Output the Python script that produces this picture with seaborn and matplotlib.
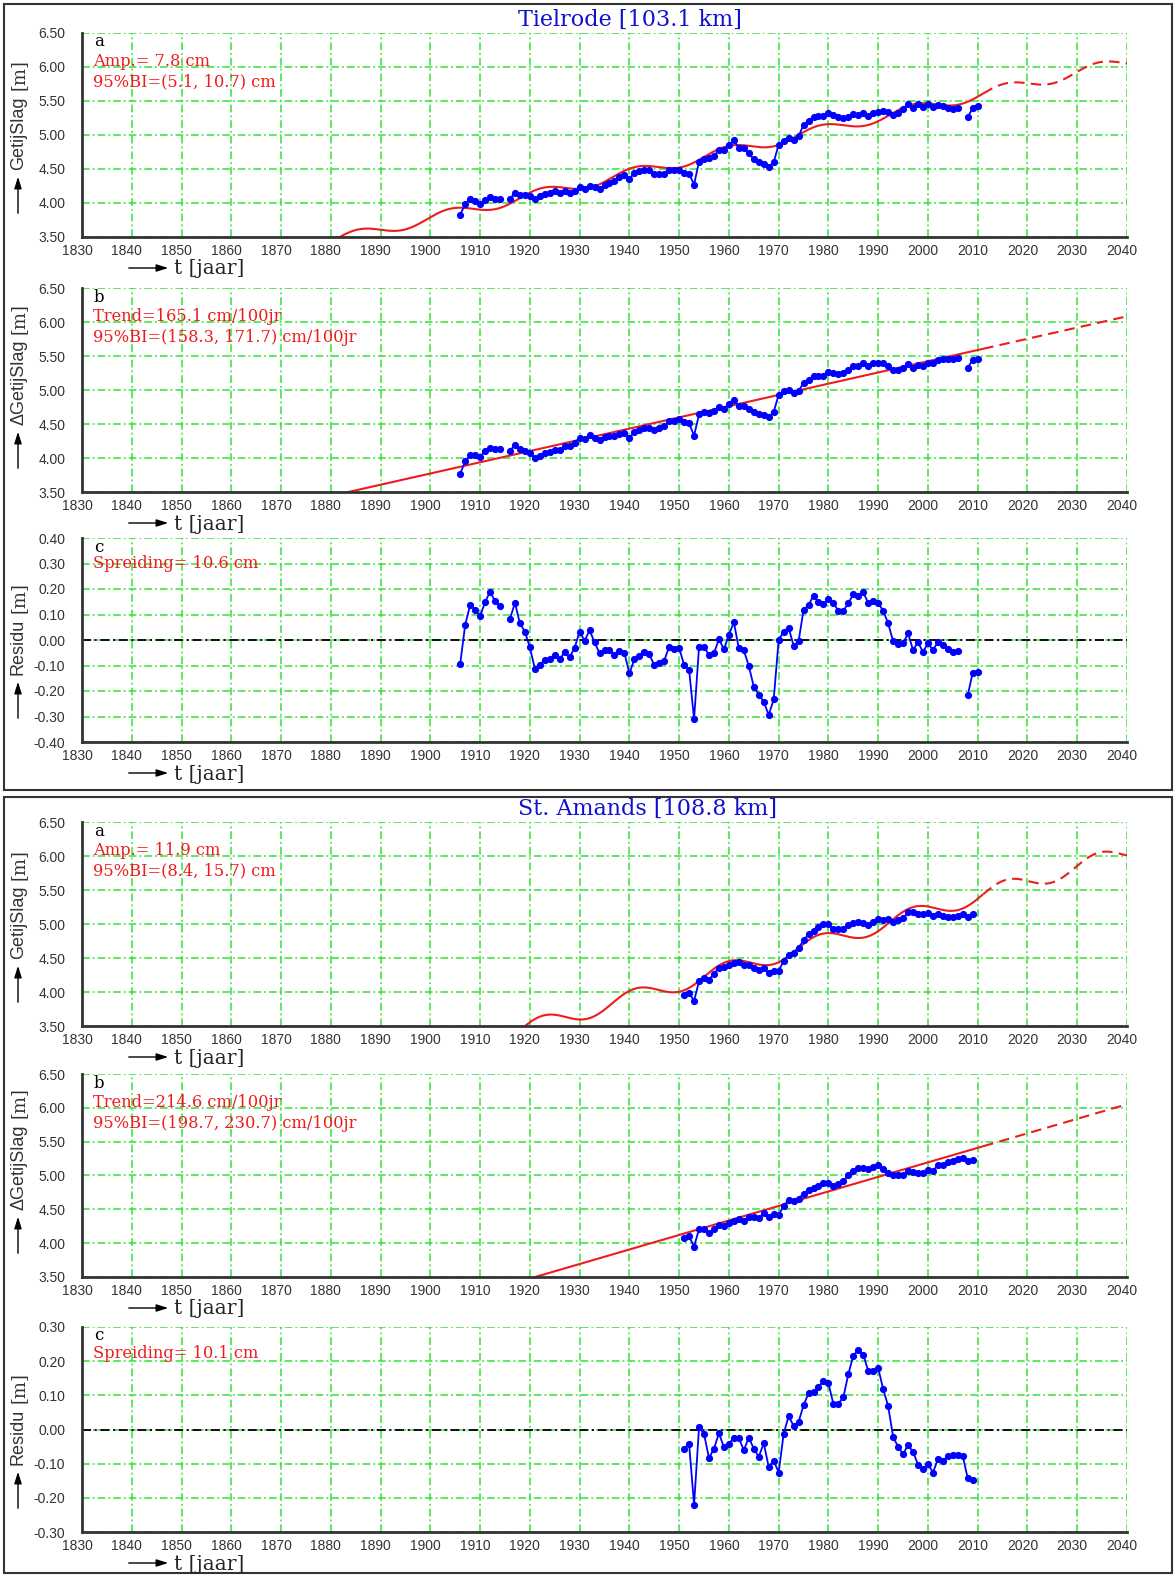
import numpy as np
import pandas as pd
import matplotlib
matplotlib.use("Agg")
import matplotlib.pyplot as plt
import seaborn as sns
from matplotlib.patches import Rectangle, FancyArrowPatch
from matplotlib.ticker import FormatStrFormatter
from matplotlib.transforms import ScaledTranslation

# ---------------- data ----------------
tielrode_title = "Tielrode [103.1 km]"
tielrode_years = list(range(1906, 1915)) + list(range(1916, 2007)) + [2008, 2009, 2010]
tielrode_obs = [3.83, 3.98, 4.06, 4.03, 3.99, 4.05, 4.09, 4.06, 4.06,
                4.06, 4.15, 4.12, 4.12, 4.11, 4.06, 4.10, 4.13, 4.15, 4.17,
                4.15, 4.17, 4.15, 4.18, 4.23, 4.20, 4.25, 4.23, 4.21, 4.26,
                4.29, 4.33, 4.38, 4.41, 4.36, 4.44, 4.47, 4.49, 4.48, 4.43,
                4.43, 4.43, 4.48, 4.48, 4.48, 4.44, 4.43, 4.27, 4.61, 4.65,
                4.66, 4.69, 4.78, 4.78, 4.85, 4.92, 4.81, 4.81, 4.73, 4.64,
                4.60, 4.57, 4.53, 4.60, 4.86, 4.91, 4.96, 4.93, 4.98, 5.15,
                5.21, 5.27, 5.28, 5.28, 5.32, 5.30, 5.26, 5.25, 5.27, 5.31,
                5.30, 5.32, 5.28, 5.33, 5.34, 5.35, 5.34, 5.30, 5.33, 5.38,
                5.46, 5.40, 5.46, 5.41, 5.46, 5.41, 5.44, 5.42, 5.40, 5.38,
                5.40, 5.26, 5.40, 5.43]
tielrode_delta = [3.77, 3.95, 4.04, 4.04, 4.02, 4.10, 4.15, 4.13, 4.13,
                  4.11, 4.19, 4.13, 4.11, 4.07, 4.00, 4.03, 4.07, 4.09, 4.12,
                  4.12, 4.17, 4.17, 4.22, 4.30, 4.28, 4.34, 4.30, 4.27, 4.31,
                  4.32, 4.32, 4.36, 4.37, 4.30, 4.38, 4.41, 4.44, 4.44, 4.41,
                  4.44, 4.47, 4.54, 4.54, 4.57, 4.53, 4.51, 4.33, 4.64, 4.67,
                  4.66, 4.69, 4.75, 4.72, 4.80, 4.85, 4.76, 4.77, 4.72, 4.67,
                  4.65, 4.63, 4.60, 4.68, 4.93, 4.98, 5.00, 4.96, 4.98, 5.11,
                  5.15, 5.21, 5.20, 5.21, 5.26, 5.25, 5.24, 5.25, 5.29, 5.35,
                  5.36, 5.39, 5.36, 5.39, 5.40, 5.39, 5.35, 5.29, 5.29, 5.32,
                  5.38, 5.33, 5.37, 5.35, 5.40, 5.39, 5.44, 5.45, 5.45, 5.45,
                  5.47, 5.33, 5.44, 5.45]
tielrode_resid = [-0.094, 0.059, 0.137, 0.118, 0.094, 0.148, 0.190, 0.152, 0.133,
                  0.082, 0.146, 0.065, 0.033, -0.029, -0.112, -0.099, -0.077, -0.076, -0.059,
                  -0.076, -0.047, -0.068, -0.030, 0.033, -0.003, 0.038, -0.009, -0.052, -0.039,
                  -0.039, -0.060, -0.042, -0.051, -0.131, -0.076, -0.061, -0.046, -0.056, -0.099,
                  -0.090, -0.081, -0.026, -0.034, -0.031, -0.098, -0.116, -0.311, -0.026, -0.026,
                  -0.060, -0.052, 0.004, -0.037, 0.021, 0.069, -0.033, -0.041, -0.102, -0.183,
                  -0.214, -0.242, -0.294, -0.233, 0.000, 0.033, 0.048, -0.022, -0.005, 0.118,
                  0.137, 0.174, 0.149, 0.141, 0.161, 0.144, 0.115, 0.115, 0.144, 0.180,
                  0.173, 0.188, 0.144, 0.154, 0.144, 0.115, 0.065, -0.005, -0.016, -0.013,
                  0.026, -0.039, -0.009, -0.047, -0.013, -0.039, -0.008, -0.021, -0.037, -0.047,
                  -0.043, -0.216, -0.128, -0.127]
tielrode_amp_text = ["Amp.= 7.8 cm", "95%BI=(5.1, 10.7) cm"]
tielrode_trend_text = ["Trend=165.1 cm/100jr", "95%BI=(158.3, 171.7) cm/100jr"]
tielrode_spread_text = "Spreiding= 10.6 cm"
# fitted model parameters (read from the annotations / curves)
tielrode_rate = 0.01651        # m/yr
tielrode_level2000 = 5.423     # trend value in 2000 [m]
tielrode_amp = 0.078           # nodal amplitude [m]

stamands_title = "St. Amands [108.8 km]"
stamands_years = list(range(1951, 2010))
stamands_obs = [3.95, 3.99, 3.87, 4.16, 4.20, 4.18, 4.27, 4.36, 4.37, 4.40,
                4.43, 4.44, 4.39, 4.39, 4.35, 4.32, 4.35, 4.28, 4.31, 4.31,
                4.46, 4.54, 4.58, 4.65, 4.76, 4.85, 4.90, 4.95, 5.00, 5.00,
                4.93, 4.92, 4.92, 4.98, 5.02, 5.03, 5.02, 4.98, 5.03, 5.07,
                5.06, 5.07, 5.03, 5.06, 5.09, 5.17, 5.17, 5.15, 5.15, 5.16,
                5.12, 5.14, 5.12, 5.11, 5.11, 5.12, 5.14, 5.11, 5.15]
stamands_delta = [4.07, 4.10, 3.95, 4.21, 4.21, 4.15, 4.21, 4.27, 4.26, 4.30,
                  4.33, 4.35, 4.33, 4.39, 4.38, 4.37, 4.44, 4.38, 4.43, 4.42,
                  4.55, 4.64, 4.63, 4.66, 4.73, 4.79, 4.81, 4.84, 4.89, 4.89,
                  4.84, 4.87, 4.92, 5.00, 5.07, 5.11, 5.11, 5.09, 5.12, 5.16,
                  5.10, 5.04, 5.01, 5.00, 5.01, 5.06, 5.05, 5.04, 5.04, 5.08,
                  5.07, 5.15, 5.16, 5.20, 5.22, 5.24, 5.26, 5.22, 5.23]
stamands_resid = [-0.056, -0.042, -0.220, 0.007, -0.013, -0.084, -0.056, -0.011, -0.052, -0.041,
                  -0.025, -0.026, -0.060, -0.024, -0.056, -0.080, -0.040, -0.110, -0.091, -0.126,
                  -0.013, 0.039, 0.011, 0.022, 0.071, 0.106, 0.109, 0.125, 0.142, 0.135,
                  0.075, 0.076, 0.094, 0.162, 0.216, 0.233, 0.219, 0.172, 0.172, 0.180,
                  0.118, 0.069, -0.022, -0.050, -0.072, -0.046, -0.065, -0.103, -0.117, -0.100,
                  -0.126, -0.087, -0.091, -0.079, -0.076, -0.075, -0.078, -0.143, -0.148]
stamands_amp_text = ["Amp.= 11.9 cm", "95%BI=(8.4, 15.7) cm"]
stamands_trend_text = ["Trend=214.6 cm/100jr", "95%BI=(198.7, 230.7) cm/100jr"]
stamands_spread_text = "Spreiding= 10.1 cm"
stamands_rate = 0.02146
stamands_level2000 = 5.194
stamands_amp = 0.119

nodal_period = 18.61      # years
nodal_peak_year = 1997.0  # phase of the nodal cycle
forecast_from = 2011      # model curve dashed after this year

xticks = list(range(1830, 2041, 10))
level_ticks = [3.5, 4.0, 4.5, 5.0, 5.5, 6.0, 6.5]
tielrode_resid_ticks = [-0.4, -0.3, -0.2, -0.1, 0.0, 0.1, 0.2, 0.3, 0.4]
stamands_resid_ticks = [-0.3, -0.2, -0.1, 0.0, 0.1, 0.2, 0.3]

# ---------------- style ----------------
W, H = 1176, 1576
sns.set_theme(style="white")
plt.rcParams["font.family"] = ["Liberation Sans", "DejaVu Sans"]
SERIF = ["DejaVu Serif"]
GREEN = "#33e233"
BLUE = "#0000ff"
RED = "#ee1c1c"
GRID_LS = (0, (5, 2, 1.2, 2))

fig = plt.figure(figsize=(W / 100, H / 100), dpi=100)


def fx(x):
    return x / W


def fy(y):
    return 1 - y / H


AX_L, AX_R = 82.0, 1127.0
panel_px = [(33.0, 237.0), (288.0, 492.0), (538.0, 742.0),
            (822.0, 1026.0), (1074.0, 1277.0), (1327.0, 1532.0)]


def seg_frame(years, values):
    yrs = np.asarray(years)
    seg = np.cumsum(np.diff(yrs, prepend=yrs[0]) > 1)
    return pd.DataFrame({"year": yrs, "val": values, "seg": seg})


def model(t, rate, lvl, amp):
    trend = lvl + rate * (t - 2000)
    return trend + amp * np.cos(2 * np.pi * (t - nodal_peak_year) / nodal_period)


def style_axes(ax, ylim, yticks):
    ax.set_xlim(1830, 2040)
    ax.set_ylim(*ylim)
    ax.set_xticks(xticks)
    ax.set_yticks(yticks)
    ax.yaxis.set_major_formatter(FormatStrFormatter("%.2f"))
    ax.grid(True, color=GREEN, linestyle=GRID_LS, lw=1.1)
    for s in ["top", "right"]:
        ax.spines[s].set_visible(False)
    for s in ["left", "bottom"]:
        ax.spines[s].set_color("#333333")
        ax.spines[s].set_linewidth(2)
        ax.spines[s].set_zorder(3)
    ax.tick_params(axis="y", length=0, pad=12, labelsize=10, labelcolor="#333333")
    ax.tick_params(axis="x", length=0, pad=5, labelsize=10, labelcolor="#333333")
    ax.set_xlabel("")
    ax.set_ylabel("")
    for lab in ax.get_xticklabels():
        lab.set_transform(lab.get_transform() + ScaledTranslation(-5 / 100, 0, fig.dpi_scale_trans))


ylabel_items = []


def decorate(ax, top, bot, letter, texts, ylabel, line_offsets):
    ax.text(fx(94), fy(top + 9), letter, transform=fig.transFigure, family=SERIF,
            fontsize=12, color="black", va="center", ha="left")
    for t, off in zip(texts, line_offsets):
        ax.text(fx(93), fy(top + off), t, transform=fig.transFigure, family=SERIF,
                fontsize=11.7, color=RED, va="center", ha="left")
    # x label with arrow
    yl = bot + 31
    fig.add_artist(FancyArrowPatch((fx(126), fy(yl)), (fx(171), fy(yl)), transform=fig.transFigure,
                                   arrowstyle="-|>,head_length=0.7,head_width=0.22",
                                   mutation_scale=10, lw=1, color="black"))
    fig.text(fx(174), fy(yl + 1), "t [jaar]", family=SERIF, fontsize=14.5, va="center", ha="left")
    # y label with arrow
    fig.add_artist(FancyArrowPatch((fx(18), fy(bot - 21)), (fx(18), fy(bot - 63)), transform=fig.transFigure,
                                   arrowstyle="-|>,head_length=0.7,head_width=0.22",
                                   mutation_scale=10, lw=1, color="black"))
    t1 = fig.text(fx(18.5), fy(bot - 67), ylabel, rotation=90, ha="center", va="bottom",
                  fontsize=13, color="#333333")
    ylabel_items.append(t1)


stations = [
    (tielrode_title, tielrode_years, tielrode_obs, tielrode_delta, tielrode_resid,
     tielrode_amp_text, tielrode_trend_text, tielrode_spread_text,
     tielrode_rate, tielrode_level2000, tielrode_amp, (-0.4, 0.4), tielrode_resid_ticks),
    (stamands_title, stamands_years, stamands_obs, stamands_delta, stamands_resid,
     stamands_amp_text, stamands_trend_text, stamands_spread_text,
     stamands_rate, stamands_level2000, stamands_amp, (-0.3, 0.3), stamands_resid_ticks),
]

t_grid = np.arange(1830, 2040.01, 0.1)

for si, (title, yrs, obs, delta, resid, amp_t, trend_t, spread_t,
         rate, lvl, amp, rlim, rticks) in enumerate(stations):
    pa, pb, pc = panel_px[3 * si: 3 * si + 3]
    axes = []
    for (top, bot) in (pa, pb, pc):
        ax = fig.add_axes([fx(AX_L), fy(bot), (AX_R - AX_L) / W, (bot - top) / H])
        axes.append(ax)
    ax_a, ax_b, ax_c = axes

    full = model(t_grid, rate, lvl, amp)
    trend = model(t_grid, rate, lvl, 0.0)
    solid = t_grid <= forecast_from
    dashed = t_grid >= forecast_from
    for ax, curve in ((ax_a, full), (ax_b, trend)):
        sns.lineplot(x=t_grid[solid], y=curve[solid], color=RED, lw=1.5, ax=ax)
        sns.lineplot(x=t_grid[dashed], y=curve[dashed], color=RED, lw=1.5,
                     linestyle=(0, (5, 3)), ax=ax)

    for ax, vals in ((ax_a, obs), (ax_b, delta), (ax_c, resid)):
        df = seg_frame(yrs, vals)
        sns.lineplot(data=df, x="year", y="val", units="seg", estimator=None, sort=True,
                     color=BLUE, lw=1.3, marker="o", markersize=5.2, markeredgewidth=0,
                     ax=ax, legend=False)

    ax_c.axhline(0, color="black", lw=1.3, linestyle=GRID_LS, zorder=1.5)

    style_axes(ax_a, (3.5, 6.5), level_ticks)
    style_axes(ax_b, (3.5, 6.5), level_ticks)
    style_axes(ax_c, rlim, rticks)

    decorate(ax_a, pa[0], pa[1], "a", amp_t, "GetijSlag", (28.5, 49))
    decorate(ax_b, pb[0], pb[1], "b", trend_t, "\u0394GetijSlag", (28.5, 49))
    decorate(ax_c, pc[0], pc[1], "c", [spread_t], "Residu", (26,))

    fig.text(fx(518), fy(pa[0] - 13), title, family=SERIF, fontsize=16, color="#1010d0",
             ha="left", va="center")

# frames around each station block
for (y0, y1) in ((4, 790), (797, 1573)):
    fig.add_artist(Rectangle((fx(4), fy(y1)), (1172 - 4) / W, (y1 - y0) / H,
                             transform=fig.transFigure, fill=False, ec="#333333", lw=1.5))

# "[m]" after y-label names
fig.canvas.draw()
renderer = fig.canvas.get_renderer()
for t1 in ylabel_items:
    bb = t1.get_window_extent(renderer)
    fig.text(fx(18.5), (bb.y1 + 6) / H, "[m]", rotation=90, ha="center", va="bottom",
             family=SERIF, fontsize=13, color="#333333")

fig.savefig("out.png", dpi=100)
